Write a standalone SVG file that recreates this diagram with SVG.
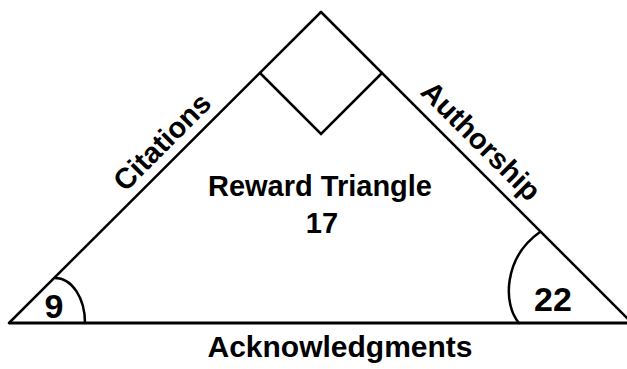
<svg xmlns="http://www.w3.org/2000/svg" width="627" height="369" viewBox="0 0 627 369">
  <style>
    .edge { fill: none; stroke: #000; stroke-width: 2.5; stroke-linecap: round; stroke-linejoin: miter; }
    .base { fill: none; stroke: #000; stroke-width: 3; }
    .lbl { font-family: "Liberation Sans", Arial, sans-serif; font-weight: bold; fill: #000; text-anchor: middle; }
  </style>
  <rect width="627" height="369" fill="#fff"/>

  <!-- triangle sides, right-angle mark and angle arcs -->
  <g id="connectors">
    <line class="base" x1="9" y1="323" x2="627" y2="323"/>
    <line class="edge" x1="9" y1="323" x2="321" y2="12"/>
    <line class="edge" x1="321" y1="12" x2="632" y2="323"/>
    <polyline class="edge" points="260,73 321,134 382,73"/>
    <path class="edge" d="M55,278 C72,278 85,298 85,323"/>
    <path class="edge" d="M519,323 C503,305 503,258 540,232"/>
  </g>

  <g id="citations">
    <text class="lbl" font-size="29" transform="translate(169,149) rotate(-45)">Citations</text>
  </g>
  <g id="authorship">
    <text class="lbl" font-size="29" transform="translate(474,148) rotate(45)">Authorship</text>
  </g>
  <g id="acknowledgments">
    <text class="lbl" font-size="30" x="340" y="357">Acknowledgments</text>
  </g>
  <g id="reward-triangle">
    <text class="lbl" font-size="29" x="320" y="196">Reward Triangle</text>
    <text class="lbl" font-size="29" x="322" y="233">17</text>
  </g>
  <g id="angle-left">
    <text class="lbl" font-size="34" x="54" y="318">9</text>
  </g>
  <g id="angle-right">
    <text class="lbl" font-size="34" x="553" y="311">22</text>
  </g>
</svg>
